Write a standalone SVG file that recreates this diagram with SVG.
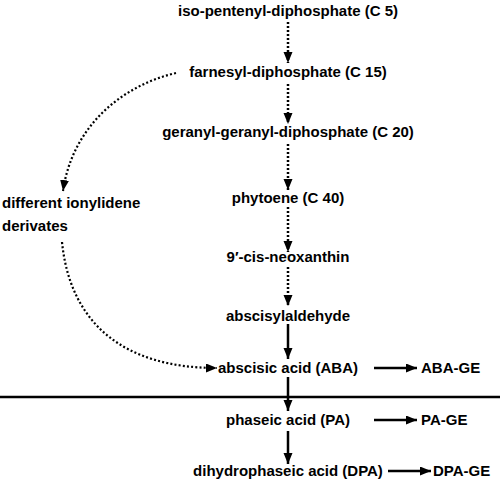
<svg xmlns="http://www.w3.org/2000/svg" width="500" height="482" viewBox="0 0 500 482">
<style>
text{font-family:"Liberation Sans",Arial,sans-serif;font-weight:bold;font-size:15px;fill:#000}
.c{text-anchor:middle}
.solid{stroke:#000;stroke-width:2.5;fill:none}
.dot{stroke:#000;stroke-width:2.5;fill:none;stroke-dasharray:2 2}
.dotc{stroke:#000;stroke-width:2.2;fill:none;stroke-dasharray:2 2.2}
</style>
<defs>
<marker id="ah" markerUnits="userSpaceOnUse" markerWidth="12" markerHeight="10" refX="11" refY="4.5" orient="auto">
<path d="M0,0 L11,4.5 L0,9 z" fill="#000"/>
</marker>
</defs>
<rect width="500" height="482" fill="#fff"/>
<g id="connectors">
<line class="dot" x1="288" y1="22" x2="288" y2="63" marker-end="url(#ah)"/>
<line class="dot" x1="288" y1="84" x2="288" y2="124" marker-end="url(#ah)"/>
<line class="dot" x1="288" y1="144" x2="288" y2="190" marker-end="url(#ah)"/>
<line class="dot" x1="288" y1="207" x2="288" y2="252" marker-end="url(#ah)"/>
<line class="dot" x1="288" y1="267" x2="288" y2="306" marker-end="url(#ah)"/>
<line class="solid" x1="288" y1="324" x2="288" y2="359" marker-end="url(#ah)"/>
<line class="solid" x1="288" y1="377" x2="288" y2="411" marker-end="url(#ah)"/>
<line class="solid" x1="288" y1="431" x2="288" y2="464" marker-end="url(#ah)"/>
<line class="solid" x1="374" y1="368" x2="417" y2="368" marker-end="url(#ah)"/>
<line class="solid" x1="374" y1="420" x2="417" y2="420" marker-end="url(#ah)"/>
<line class="solid" x1="388" y1="471" x2="431" y2="471" marker-end="url(#ah)"/>
<path class="dotc" d="M176,73 C120,86 72,128 63,191" marker-end="url(#ah)"/>
<path class="dotc" d="M62,242 C70,322 122,368 217,368" marker-end="url(#ah)"/>
</g>
<line id="divider" x1="0" y1="397" x2="500" y2="397" stroke="#000" stroke-width="2.5"/>
<g id="ipp"><text class="c" x="288" y="16">iso-pentenyl-diphosphate (C 5)</text></g>
<g id="fpp"><text class="c" x="288" y="77">farnesyl-diphosphate (C 15)</text></g>
<g id="ggpp"><text class="c" x="288" y="137">geranyl-geranyl-diphosphate (C 20)</text></g>
<g id="phytoene"><text class="c" x="288" y="203">phytoene (C 40)</text></g>
<g id="neoxanthin"><text class="c" x="288" y="262">9′-cis-neoxanthin</text></g>
<g id="abscisylaldehyde"><text class="c" x="288" y="321">abscisylaldehyde</text></g>
<g id="aba"><text class="c" x="288" y="373">abscisic acid (ABA)</text></g>
<g id="pa"><text class="c" x="288" y="425">phaseic acid (PA)</text></g>
<g id="dpa"><text class="c" x="288" y="476">dihydrophaseic acid (DPA)</text></g>
<g id="abage"><text x="421" y="373">ABA-GE</text></g>
<g id="page"><text x="421" y="425">PA-GE</text></g>
<g id="dpage"><text x="433" y="476">DPA-GE</text></g>
<g id="ionylidene"><text x="2" y="208">different ionylidene</text><text x="2" y="231">derivates</text></g>
</svg>
